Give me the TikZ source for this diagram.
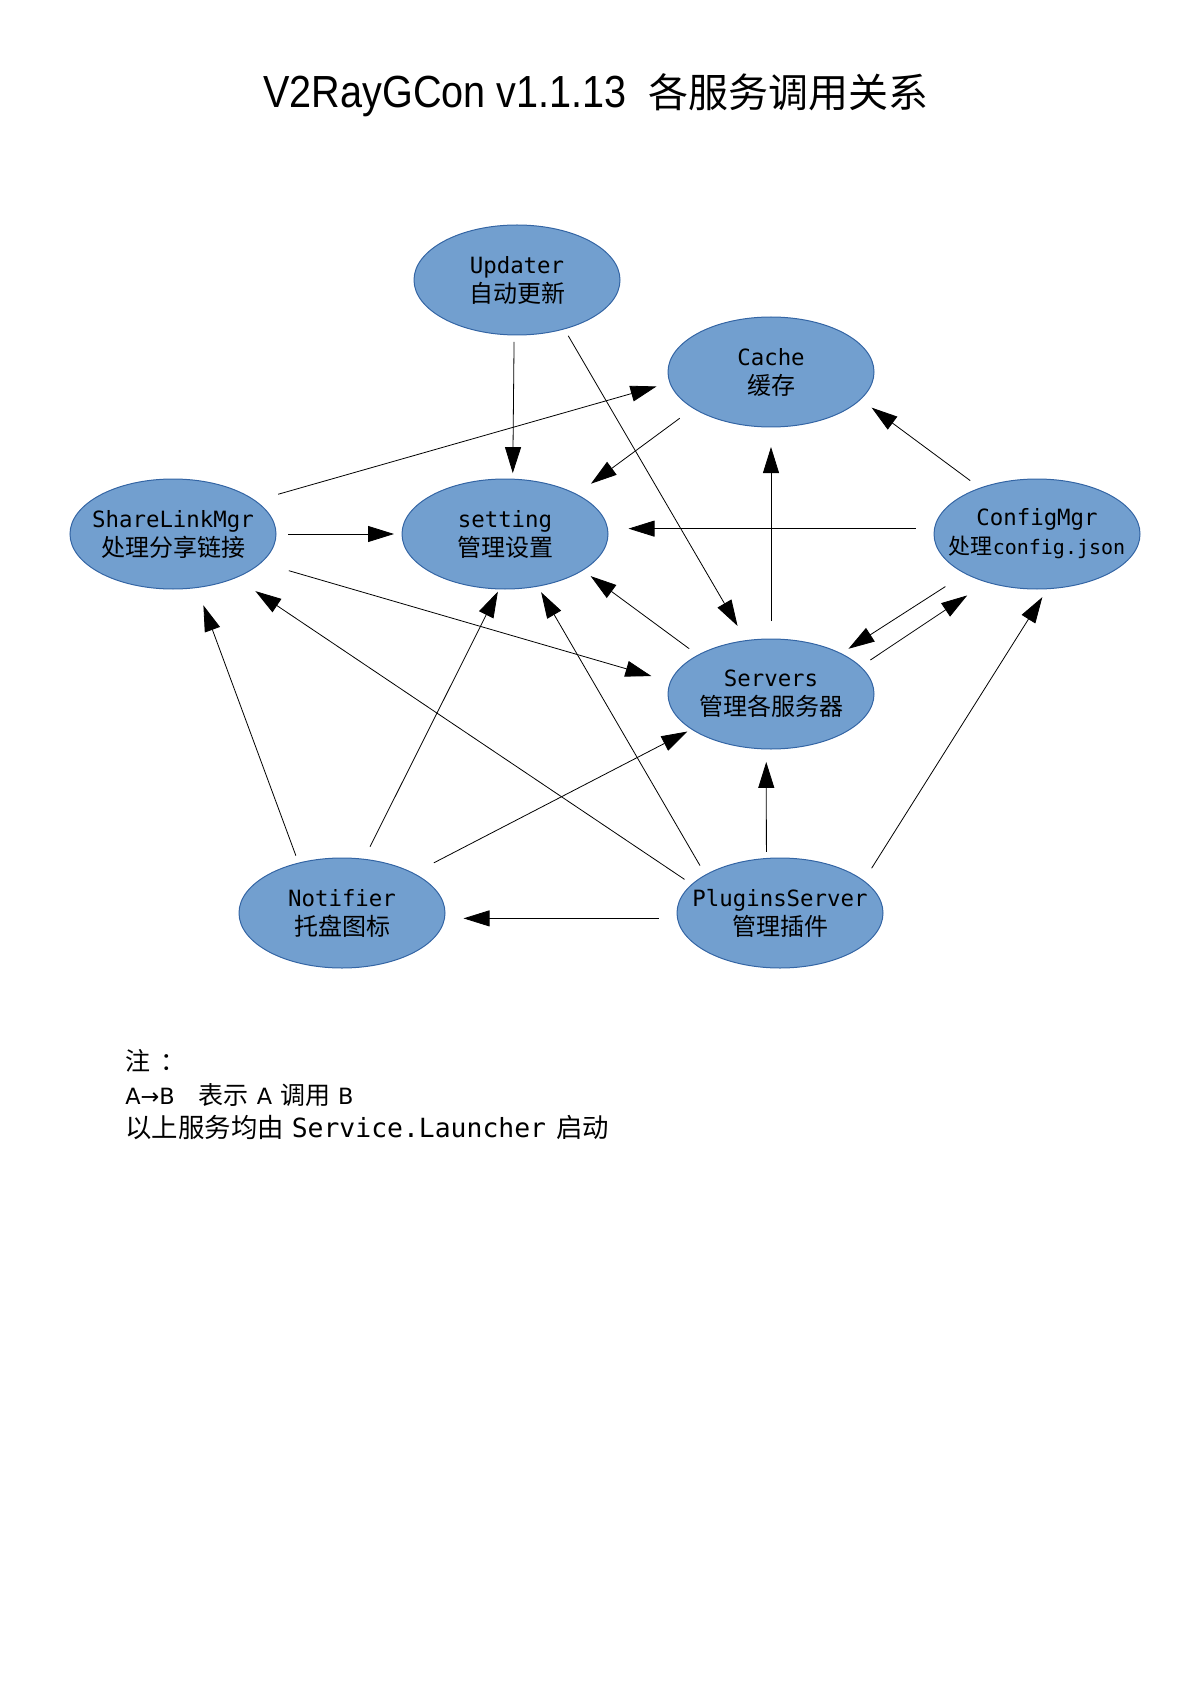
\documentclass[tikz,border=0pt]{standalone}
\usepackage{fontspec}
\setmainfont{Noto Sans CJK SC}
\setmonofont{DejaVu Sans Mono}
\newfontfamily\titlefont[FakeStretch=0.88]{Liberation Sans}
\newfontfamily\symfont{DejaVu Sans}
\usepackage{tikz}
\usetikzlibrary{arrows.meta, shapes.geometric}
\definecolor{svcFill}{HTML}{729FCF}
\definecolor{svcEdge}{HTML}{3465A4}
\tikzset{
  svc/.style={ellipse, fill=svcFill, draw=svcEdge, line width=0.5pt,
    minimum width=103pt, minimum height=55pt, inner sep=0pt, outer sep=0pt,
    align=center, font=\fontsize{12}{14.5}\selectfont},
  call/.style={-{Triangle[length=13pt,width=8pt]}, line width=0.4pt},
  trim/.style 2 args={shorten <=#1, shorten >=#2},
  note/.style={anchor=base west, inner sep=0pt, font=\fontsize{12.5}{16}\selectfont}
}
\newcommand{\svctext}[2]{\makebox[0pt]{\ttfamily\fontsize{11.2}{14.5}\selectfont #1}\\\makebox[0pt]{#2}}

\begin{document}
\begin{tikzpicture}[x=0.5pt,y=-0.5pt]
  \useasboundingbox (0,0) rectangle (1190,1684);
  \node[anchor=base, inner sep=0pt] (title) at (596,108)
    {\fontsize{22.5}{26}\selectfont\titlefont V2RayGCon v1.1.13\ \ {\fontsize{20}{26}\selectfont\normalfont 各服务调用关系}};

  \node[svc] (upd) at (517,280) {\svctext{Updater}{自动更新}};
  \node[svc] (cache) at (771,372) {\svctext{Cache}{缓存}};
  \node[svc] (slm) at (173,534) {\svctext{ShareLinkMgr}{处理分享链接}};
  \node[svc] (set) at (505,534) {\svctext{setting}{管理设置}};
  \node[svc] (cfg) at (1037,534) {\svctext{ConfigMgr}{{\fontsize{11}{14.5}\selectfont 处理}{\ttfamily\fontsize{10}{14.5}\selectfont config.json}}};
  \node[svc] (srv) at (771,694) {\svctext{Servers}{管理各服务器}};
  \node[svc] (ntf) at (342,913) {\svctext{Notifier}{托盘图标}};
  \node[svc] (plg) at (780,913) {\svctext{PluginsServer}{管理插件}};

  \draw[call, trim={3.5pt}{3pt}] (upd.-93) -- (set.82);
  \draw[call, trim={4pt}{8.5pt}] (upd.-46) -- (srv.115);
  \draw[call, trim={12pt}{7pt}] (slm.22) -- (cache.186);
  \draw[call, trim={8.5pt}{9pt}] (cache.205) -- (set.29);
  \draw[call, trim={6pt}{4pt}] (slm.east) -- (set.west);
  \draw[call, trim={9.5pt}{10.5pt}] (cfg.177) -- (set.3);
  \draw[call, trim={6.3pt}{7pt}] (cfg.141) -- (cache.-17);
  \draw[call, trim={9pt}{10pt}] (srv.north) -- (cache.south);
  \draw[call, trim={14.5pt}{10pt}] (slm.-18) -- (srv.173);
  \draw[call, trim={5.5pt}{5pt}] (srv.152) -- (set.-25);
  \draw[call, trim={12pt}{4.5pt}] (cfg.209) -- (srv.30);
  \draw[call, trim={6pt}{12pt}] (srv.17) -- (cfg.224);
  \draw[call, trim={4pt}{9.5pt}] (ntf.131) -- (slm.-66);
  \draw[call, trim={7pt}{1.5pt}] (ntf.68) -- (set.-96);
  \draw[call, trim={11.5pt}{2.5pt}] (ntf.29) -- (srv.204);
  \draw[call, trim={4.5pt}{12pt}] (plg.162) -- (slm.-35);
  \draw[call, trim={5.5pt}{3.5pt}] (plg.153) -- (set.-58);
  \draw[call, trim={3.3pt}{6.5pt}] (plg.104) -- (srv.-95);
  \draw[call, trim={9.5pt}{9.5pt}] (plg.183) -- (ntf.-3);
  \draw[call, trim={7.5pt}{5pt}] (plg.21) -- (cfg.-79);

  \node[note] (noteHead) at (125,1070) {注\hspace{5pt}：};
  \node[note] (noteCall) at (125,1104) {{\symfont\fontsize{11.2}{16}\selectfont A→B}\hspace{12pt}表示\hspace{4pt}{\symfont\fontsize{11.2}{16}\selectfont A}\hspace{4pt}调用\hspace{4pt}{\symfont\fontsize{11.2}{16}\selectfont B}};
  \node[note, font=\fontsize{13.2}{16}\selectfont] (noteStart) at (125,1137) {以上服务均由\hspace{4pt}{\ttfamily\fontsize{13.2}{16}\selectfont Service.Launcher}\hspace{5pt}启动};
\end{tikzpicture}
\end{document}
